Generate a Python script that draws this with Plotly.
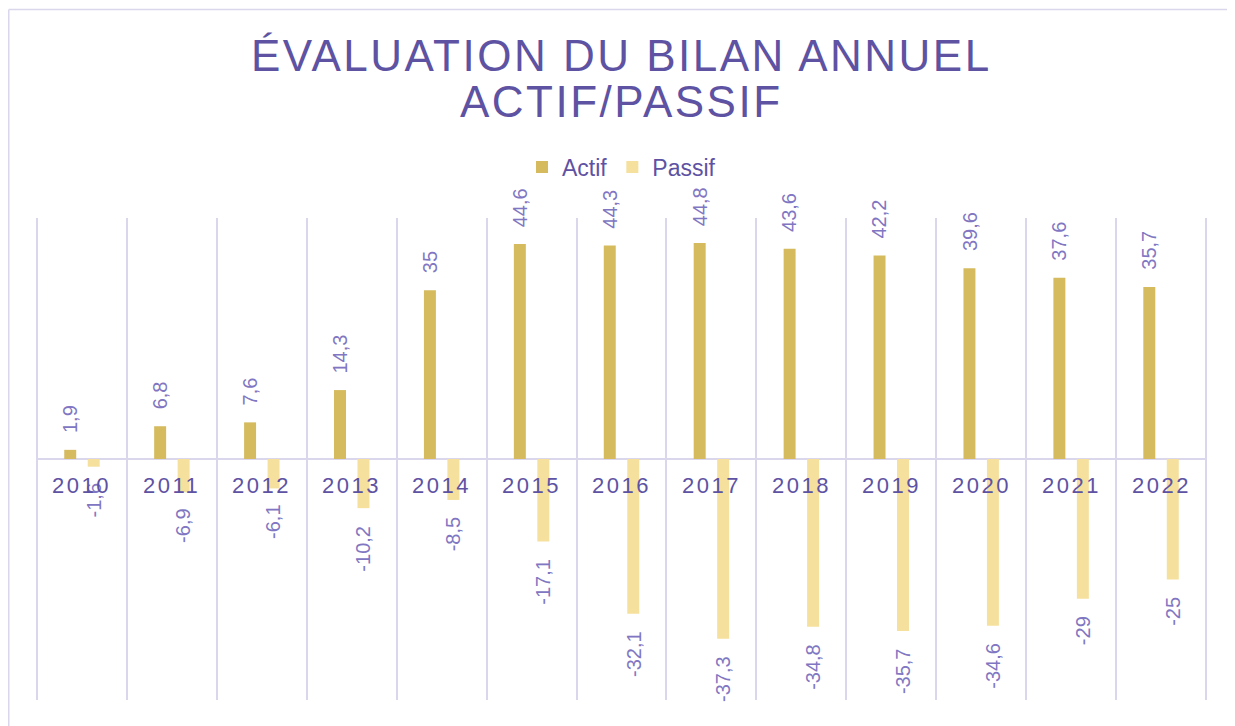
import plotly.graph_objects as go

years = ["2010", "2011", "2012", "2013", "2014", "2015", "2016",
         "2017", "2018", "2019", "2020", "2021", "2022"]
actif = [1.9, 6.8, 7.6, 14.3, 35, 44.6, 44.3, 44.8, 43.6, 42.2, 39.6, 37.6, 35.7]
passif = [-1.6, -6.9, -6.1, -10.2, -8.5, -17.1, -32.1, -37.3, -34.8, -35.7, -34.6, -29, -25]

title_lines = ["ÉVALUATION DU BILAN ANNUEL", "ACTIF/PASSIF"]

GOLD = "#D5BB5E"
PALE = "#F5E09E"
DARK = "#5E52A3"
LIGHT = "#8076C2"
GRID = "#DAD7EC"
FONT = "Liberation Sans, Arial, sans-serif"

# plot area (page body adds an 8px offset)
L, T, W, H = 29, 210, 1169, 482


def fmt(v):
    return f"{v:g}".replace(".", ",")


def ls(s, px):
    return f'<span style="letter-spacing:{px}px">{s}</span>'


def px_x(x):
    return (x - L) / W


def px_y(y):
    return (T + H - y) / H


fig = go.Figure()
fig.add_trace(go.Bar(name="Actif", x=years, y=actif, marker_color=GOLD,
                     marker_line_width=0))
fig.add_trace(go.Bar(name="Passif", x=years, y=passif, marker_color=PALE,
                     marker_line_width=0))

annotations = []
OFF = 11.75
for i, (yr, a, p) in enumerate(zip(years, actif, passif)):
    annotations.append(dict(x=i, y=a, xref="x", yref="y", text=fmt(a), textangle=-90,
                            showarrow=False, xshift=-OFF, yshift=15, yanchor="bottom",
                            xanchor="center",
                            font=dict(family=FONT, size=20, color=LIGHT)))
    annotations.append(dict(x=i, y=p, xref="x", yref="y", text=fmt(p), textangle=-90,
                            showarrow=False, xshift=OFF, yshift=-15, yanchor="top",
                            xanchor="center",
                            font=dict(family=FONT, size=20, color=LIGHT)))
    annotations.append(dict(x=i, y=0, xref="x", yref="y", text=ls(yr, 2.5),
                            showarrow=False, yshift=-26, yanchor="middle",
                            xanchor="center",
                            font=dict(family=FONT, size=22, color=DARK)))

# title, two lines with tight line spacing
for txt, py in zip(title_lines, [47, 94]):
    annotations.append(dict(x=0.5, y=px_y(py), xref="paper", yref="paper",
                            text=ls(txt, 2.5), showarrow=False, xanchor="center",
                            yanchor="middle",
                            font=dict(family=FONT, size=44, color=DARK)))

fx0, fx1, fy0 = px_x(0.75), px_x(1225), px_y(1.5)
shapes = [
    # outer chart frame
    dict(type="line", xref="paper", yref="paper", x0=fx0, x1=fx0,
         y0=fy0, y1=-0.2, line=dict(color=GRID, width=1.5)),
    dict(type="line", xref="paper", yref="paper", x0=fx0, x1=fx1,
         y0=fy0, y1=fy0, line=dict(color=GRID, width=1.5)),
    dict(type="line", xref="paper", yref="paper", x0=fx1, x1=fx1,
         y0=fy0, y1=-0.2, line=dict(color=GRID, width=1.5)),
    # outer category boundaries (grid lines at the plot edges)
    dict(type="line", xref="paper", yref="paper", x0=0, x1=0, y0=0, y1=1,
         layer="below", line=dict(color=GRID, width=2)),
    dict(type="line", xref="paper", yref="paper", x0=1, x1=1, y0=0, y1=1,
         layer="below", line=dict(color=GRID, width=2)),
]

fig.update_layout(
    width=1235, height=726,
    margin=dict(l=L, r=1235 - L - W, t=T, b=726 - T - H, autoexpand=False),
    paper_bgcolor="white", plot_bgcolor="white",
    barmode="group", bargap=0.478, bargroupgap=0.49,
    legend=dict(orientation="h", x=0.5, xanchor="center", y=px_y(159),
                yanchor="middle",
                font=dict(family=FONT, size=23, color=DARK), itemwidth=30,
                traceorder="normal"),
    xaxis=dict(type="category", range=[-0.5, 12.5], showticklabels=False, ticks="",
               showgrid=True, gridcolor=GRID, gridwidth=2, tickson="boundaries",
               showline=False, zeroline=False, fixedrange=True),
    yaxis=dict(range=[-50, 50], showticklabels=False, showgrid=False, zeroline=True,
               zerolinecolor=GRID, zerolinewidth=2, ticks=""),
    annotations=annotations,
    shapes=shapes,
    showlegend=True,
)

fig.write_html("out.html")
